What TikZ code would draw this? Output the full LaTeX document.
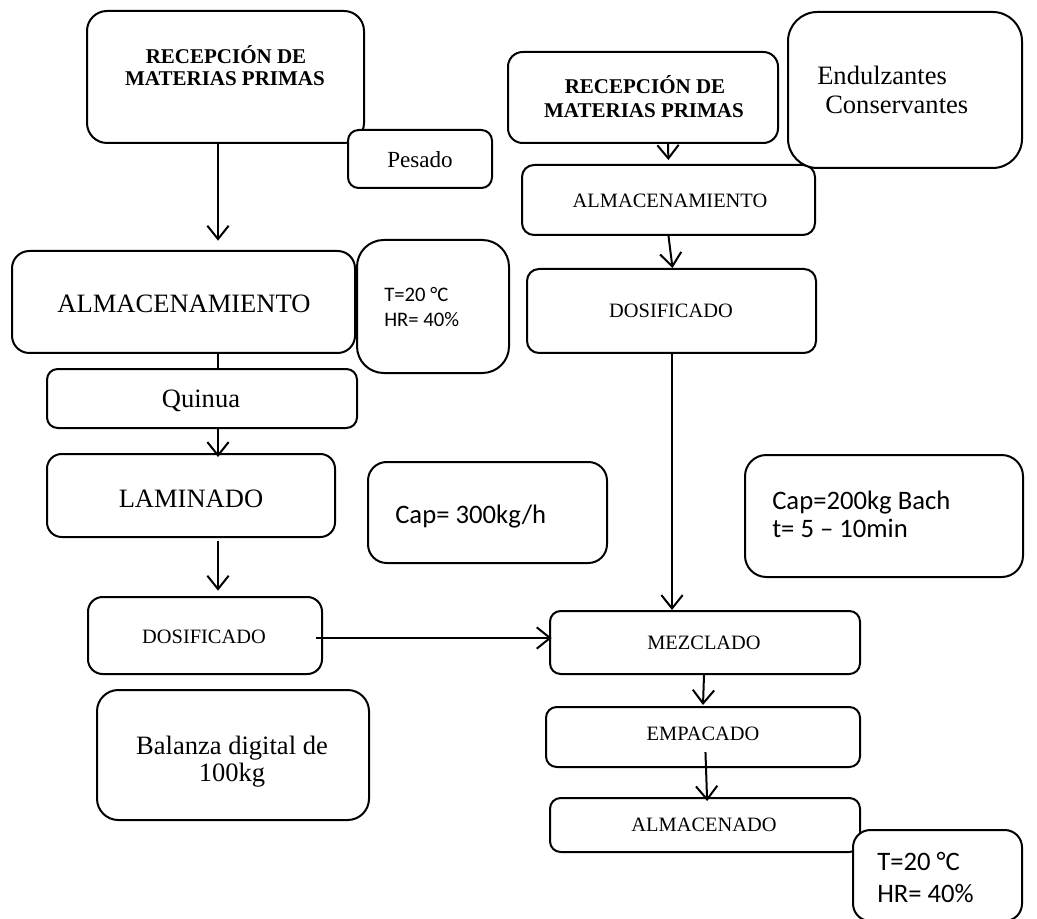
\documentclass[tikz,border=0pt]{standalone}
\usepackage{fontspec}
\setmainfont{Liberation Serif}
\newfontfamily\calib{Carlito}
\usetikzlibrary{arrows.meta,fit,calc}

\begin{document}
\begin{tikzpicture}[x=0.75pt,y=-0.75pt,
  box/.style={draw, line width=1.5pt, fill=white, rounded corners=#1, inner sep=0pt},
  box/.default=8pt,
  arr/.style={line width=1.5pt, -{Straight Barb[length=10pt,width=16pt,line width=1.5pt]}},
  link/.style={line width=1.5pt},
  txt/.style={inner sep=0pt, anchor=base},
  ltxt/.style={inner sep=0pt, anchor=base west},
  hd/.style={font=\fontsize{15.75pt}{18pt}\selectfont\bfseries},
  big/.style={font=\fontsize{19.9pt}{22pt}\selectfont},
  mid/.style={font=\fontsize{15.3pt}{18pt}\selectfont},
  pes/.style={font=\fontsize{17.3pt}{20pt}\selectfont},
  sanss/.style={font=\calib\fontsize{15.5pt}{18pt}\selectfont},
  sansl/.style={font=\calib\fontsize{20pt}{22pt}\selectfont},
]
\useasboundingbox (0,0) rectangle (1037,919);

% ---- left column boxes ----
\node[box=15pt, fit={(87,11) (364,143)}] (R1) {};
\node[box=8pt,  fit={(348,130) (492,188)}] (Pes) {};
\node[box=13pt, fit={(12,251) (355,353)}] (A1) {};
\node[box=20pt, fit={(357,240) (509,373)}] (T1) {};
\node[box=8pt,  fit={(47,369) (357,428)}] (Q) {};
\node[box=11pt, fit={(47,454) (335,537)}] (LAM) {};
\node[box=14pt, fit={(368,462) (607,563)}] (C300) {};
\node[box=11pt, fit={(88,597) (322,674)}] (D1) {};
\node[box=16pt, fit={(97,690) (369,820)}] (Bal) {};

% ---- right column boxes ----
\node[box=11pt, fit={(508,52) (778,143)}] (R2) {};
\node[box=9pt,  fit={(522,165) (815,235)}] (A2) {};
\node[box=22pt, fit={(788,12) (1022,168)}] (End) {};
\node[box=9pt,  fit={(527,269) (816,353)}] (D2) {};
\node[box=16pt, fit={(745,455) (1023,577)}] (C200) {};
\node[box=8pt,  fit={(550,611) (860,674)}] (MEZ) {};
\node[box=8pt,  fit={(546,707) (860,767)}] (EMP) {};
\node[box=8pt,  fit={(550,798) (860,852)}] (ALM) {};
\node[box=13pt, fit={(853,830) (1022,921)}] (T2) {};

% ---- texts, left column ----
\node[txt, hd]  (r1a) at (226,64) {RECEPCIÓN DE};
\node[txt, hd]  (r1b) at (225,86) {MATERIAS PRIMAS};
\node[txt, pes] (pesT) at (420,168) {Pesado};
\node[txt, big] (a1T) at (184,313) {ALMACENAMIENTO};
\node[ltxt, sanss] (t1a) at (384,302) {T=20 °C};
\node[ltxt, sanss] (t1b) at (384,327) {HR= 40\%};
\node[txt, big] (qT) at (201,407) {Quinua};
\node[txt, big] (lamT) at (191,507) {LAMINADO};
\node[ltxt, sansl] (c300T) at (395,523) {Cap= 300kg/h};
\node[txt, mid] (d1T) at (204,643) {DOSIFICADO};
\node[txt, big] (bala) at (232,754) {Balanza digital de};
\node[txt, big] (balb) at (232,781) {100kg};

% ---- texts, right column ----
\node[txt, hd]  (r2a) at (645,94) {RECEPCIÓN DE};
\node[txt, hd]  (r2b) at (644,118) {MATERIAS PRIMAS};
\node[ltxt, big] (enda) at (817,85) {Endulzantes};
\node[ltxt, big] (endb) at (825,114) {Conservantes};
\node[txt, mid] (a2T) at (670,208) {ALMACENAMIENTO};
\node[txt, mid] (d2T) at (671,318) {DOSIFICADO};
\node[ltxt, sansl] (c200a) at (772,509) {Cap=200kg Bach};
\node[ltxt, sansl] (c200b) at (772,537) {t= 5 – 10min};
\node[txt, mid] (mezT) at (704,649) {MEZCLADO};
\node[txt, mid] (empT) at (703,740) {EMPACADO};
\node[txt, mid] (almT) at (704,831) {ALMACENADO};
\node[ltxt, sansl] (t2a) at (877,870) {T=20 °C};
\node[ltxt, sansl] (t2b) at (877,902) {HR= 40\%};

% ---- connectors ----
\coordinate (cL) at (218,0);
\coordinate (cR) at (672,0);
\coordinate (rowM) at (0,638);

\draw[arr, shorten >=7pt] (R1.south -| cL) -- (A1.north -| cL);
\draw[link] (A1.south -| cL) -- (Q.north -| cL);
\draw[arr, shorten >=-3pt] (Q.south -| cL) -- (LAM.north -| cL);
\draw[arr, shorten <=2pt, shorten >=4pt] (LAM.south -| cL) -- (D1.north -| cL);
\draw[arr, shorten <=-5pt, shorten >=-2pt] (D1.east |- rowM) -- (MEZ.west |- rowM);

\draw[arr, shorten >=3pt] ($(R2.south)+(25,0)$) -- (A2.north);
\draw[arr] (A2.south) -- ($(D2.north)+(1,0)$);
\draw[arr] (D2.south -| cR) -- (MEZ.north -| cR);
\draw[arr] ($(MEZ.south)+(-1,0)$) -- ($(EMP.north)+(0,-1)$);
\draw[arr, shorten <=-12pt, shorten >=-3pt] ($(EMP.south)+(3,0)$) -- ($(ALM.north)+(2,0)$);
\end{tikzpicture}
\end{document}
